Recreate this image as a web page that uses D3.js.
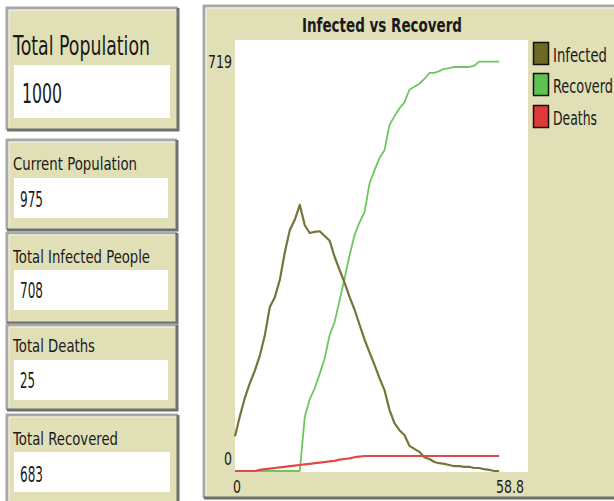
<!DOCTYPE html>
<html><head><meta charset="utf-8">
<script src="https://cdn.jsdelivr.net/npm/d3@7"></script>
<style>html,body{margin:0;padding:0;background:#fff;}svg{display:block;}</style>
</head><body>
<svg id="c" width="614" height="501"></svg>
<script>
// ---- data ----
const ticks = d3.range(0, 54);
const infected = [58,92,123,147,168,193,227,274,290,319,365,402,419,444,410,397,399,400,392,384,357,335,314,290,269,244,219,198,177,155,135,102,80,68,60,42,37,32,23,20,15,13,12,10,8,8,7,7,5,5,3,2,0,0];
const recovered = [0,0,0,0,0,0,0,0,0,0,0,0,0,0,90,120,138,162,188,227,249,285,322,360,394,415,432,480,502,522,535,577,592,605,615,636,641,646,654,664,664,667,671,672,674,674,674,674,676,683,683,683,683,683];
const deaths = [0,0,0,0,0,2,3,4,5,6,7,8,9,10,11,12,13,14,15,16,17,19,20,21,23,24,25,25,25,25,25,25,25,25,25,25,25,25,25,25,25,25,25,25,25,25,25,25,25,25,25,25,25,25];
const seriesNames = ["Infected","Recoverd","Deaths"];
const seriesColors = ["#6c6a22","#5fc150","#e0393a"];
const lineColors = ["#77743a","#6cc75c","#e24848"];
const monitorLabels = ["Total Population","Current  Population","Total Infected People","Total Deaths","Total Recovered"];
const monitorValues = ["1000","975","708","25","683"];
const chartTitle = "Infected vs Recoverd";
const xDomain = [0, 58.8];
const yDomain = [0, 719];
const xTickLabels = ["0","58.8"];
const yTickLabels = ["0","719"];

// ---- drawing ----
const svg = d3.select("#c");
const beige = "#e0dfb6";
const FONT = "DejaVu Sans, Tahoma, sans-serif";

function bevelBox(x, y, w, h) {
  const g = svg.append("g");
  g.append("rect").attr("x", x).attr("y", y).attr("width", w).attr("height", h).attr("fill", beige);
  g.append("path").attr("d", `M${x},${y+h} L${x},${y} L${x+w},${y}`).attr("stroke", "#a8a8a8").attr("stroke-width", 3).attr("fill", "none");
  g.append("path").attr("d", `M${x+w},${y} L${x+w},${y+h} L${x},${y+h}`).attr("stroke", "#707070").attr("stroke-width", 3).attr("fill", "none");
  g.append("path").attr("d", `M${x+2},${y+h-2} L${x+2},${y+2} L${x+w-2},${y+2}`).attr("stroke", "#f4f4f4").attr("stroke-width", 1).attr("fill", "none");
  return g;
}

function txt(t, x, y, size, width, opts = {}) {
  const e = svg.append("text").attr("x", x).attr("y", y).attr("font-family", FONT)
    .attr("font-size", size).attr("fill", opts.fill || "#1a1a1a").text(t);
  if (opts.weight) e.attr("font-weight", opts.weight);
  if (width) e.attr("textLength", width).attr("lengthAdjust", "spacingAndGlyphs");
  if (opts.anchor) e.attr("text-anchor", opts.anchor);
  return e;
}

// monitors
const mons = [
  {x:7,y:8,w:171,h:122, wy:65, wh:53, ww:156, lb:55, ls:27, lw:137, vb:103, vs:27, vx:22, vw:40},
  {x:7,y:140,w:170,h:90, wy:178, wh:40, ww:154, lb:170, ls:18, lw:124, vb:207, vs:22, vx:20, vw:23},
  {x:7,y:233,w:170,h:90, wy:270, wh:40, ww:154, lb:263, ls:18, lw:137, vb:298, vs:22, vx:20, vw:23},
  {x:7,y:325,w:170,h:85, wy:360, wh:40, ww:154, lb:352, ls:18, lw:82, vb:388, vs:22, vx:20, vw:15},
  {x:7,y:415,w:171,h:90, wy:452, wh:40, ww:156, lb:445, ls:18, lw:105, vb:482, vs:22, vx:20, vw:23}
];
mons.forEach((m, i) => {
  bevelBox(m.x, m.y, m.w, m.h);
  svg.append("rect").attr("x", 14).attr("y", m.wy).attr("width", m.ww).attr("height", m.wh).attr("fill", "#fff");
  txt(monitorLabels[i], 13, m.lb, m.ls, m.lw);
  txt(monitorValues[i], m.vx, m.vb, m.vs, m.vw);
});

// chart panel
bevelBox(204, 6, 420, 492);
txt(chartTitle, 382, 32, 19, 160, {weight: "bold", anchor: "middle"});

const x = d3.scaleLinear().domain(xDomain).range([235, 528]);
const y = d3.scaleLinear().domain(yDomain).range([471, 40]);

svg.append("rect").attr("x", x(xDomain[0])).attr("y", 40).attr("width", x(xDomain[1]) - x(xDomain[0])).attr("height", 432).attr("fill", "#fff");

// axis labels
txt(yTickLabels[1], 208, 68, 18, 24);
txt(yTickLabels[0], 224, 465, 18, 8);
txt(xTickLabels[0], 233, 493, 18, 8);
txt(xTickLabels[1], 496, 493, 18, 28);

const line = d3.line().x((d, i) => x(ticks[i])).y(d => y(d));
const data = [infected, recovered, deaths];
const widths = [2.2, 1.8, 2.2];
[1, 0, 2].forEach(k => {
  svg.append("path").datum(data[k]).attr("d", line).attr("fill", "none")
    .attr("stroke", lineColors[k]).attr("stroke-width", widths[k]).attr("stroke-linejoin", "round");
});

// legend
const legY = [42, 73, 105];
seriesNames.forEach((n, i) => {
  svg.append("rect").attr("x", 533.5).attr("y", legY[i] + 0.5).attr("width", 15).attr("height", 22)
    .attr("fill", seriesColors[i]).attr("stroke", "#111").attr("stroke-width", 1.5);
  txt(n, 553, legY[i] + 20, 19, [54, 60, 44][i]);
});
</script>
</body></html>
